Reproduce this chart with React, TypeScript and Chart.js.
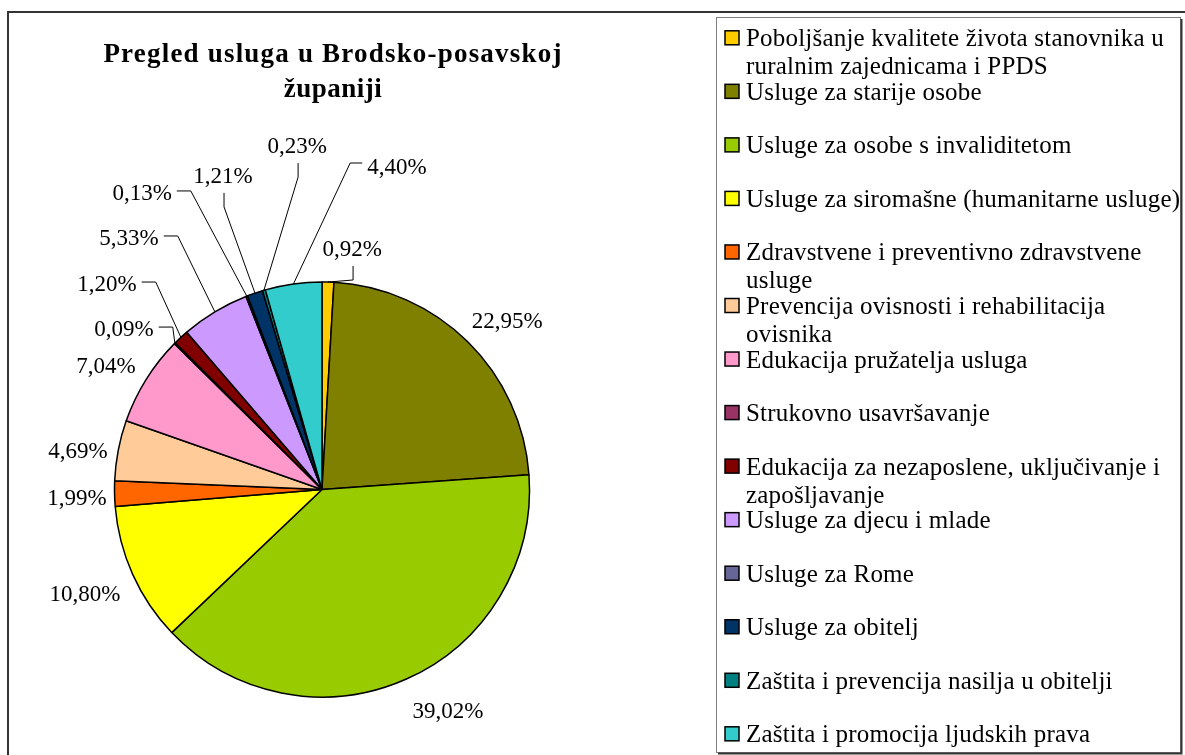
import React, { useEffect, useRef } from "react";
import { Chart, registerables } from "chart.js";

Chart.register(...registerables);

// ---------- data ----------
const categories: string[] = [
  "Poboljšanje kvalitete života stanovnika u ruralnim zajednicama i PPDS",
  "Usluge za starije osobe",
  "Usluge za osobe s invaliditetom",
  "Usluge za siromašne (humanitarne usluge)",
  "Zdravstvene i preventivno zdravstvene usluge",
  "Prevencija ovisnosti i rehabilitacija ovisnika",
  "Edukacija pružatelja usluga",
  "Strukovno usavršavanje",
  "Edukacija za nezaposlene, uključivanje i zapošljavanje",
  "Usluge za djecu i mlade",
  "Usluge za Rome",
  "Usluge za obitelj",
  "Zaštita i prevencija nasilja u obitelji",
  "Zaštita i promocija ljudskih prava",
];

const shares: number[] = [
  0.92, 22.95, 39.02, 10.8, 1.99, 4.69, 7.04, 0.09, 1.2, 5.33, 0.13, 1.21, 0.23, 4.4,
];

const sliceColors: string[] = [
  "#FFCC00", "#808000", "#99CC00", "#FFFF00", "#FF6600", "#FFCC99", "#FF99CC",
  "#993366", "#800000", "#CC99FF", "#666699", "#003366", "#008080", "#33CCCC",
];

const titleLines: string[] = ["Pregled usluga u Brodsko-posavskoj", "županiji"];

// label placement: centre of each percentage label, in pie radii from the pie centre
const labelPlacement: [number, number][] = [
  [0.145, -1.164], [0.892, -0.817], [0.607, 1.063], [-1.142, 0.499], [-1.181, 0.036],
  [-1.176, -0.19], [-1.041, -0.6], [-0.954, -0.778], [-1.036, -0.995], [-0.93, -1.217],
  [-0.867, -1.434], [-0.477, -1.516], [-0.12, -1.66], [0.361, -1.559],
];
// which side of the label a leader line leaves from (null = no leader)
const leaderSide: (string | null)[] = [
  "b", null, null, null, null, null, null, "r", "r", "r", "r", "b", "b", "l",
];

const fmtPct = (v: number) => v.toFixed(2).replace(".", ",") + "%";

function wrapText(ctx: CanvasRenderingContext2D, text: string, maxW: number): string[] {
  const words = text.split(" ");
  const lines: string[] = [];
  let cur = "";
  for (const w of words) {
    const test = cur ? cur + " " + w : w;
    if (cur && ctx.measureText(test).width > maxW) {
      lines.push(cur);
      cur = w;
    } else {
      cur = test;
    }
  }
  if (cur) lines.push(cur);
  return lines;
}

const decorPlugin = {
  id: "decor",
  beforeDraw(chart: any) {
    const ctx: CanvasRenderingContext2D = chart.ctx;
    ctx.save();
    ctx.fillStyle = "#ffffff";
    ctx.fillRect(0, 0, chart.width, chart.height);

    // outer frame
    ctx.strokeStyle = "#333333";
    ctx.lineWidth = 2;
    ctx.strokeRect(8, 12, chart.width + 20, chart.height + 20);

    // title
    ctx.fillStyle = "#000000";
    ctx.font = "bold 27px 'Liberation Serif'";
    ctx.textAlign = "center";
    ctx.textBaseline = "alphabetic";
    (ctx as any).letterSpacing = "1.2px";
    ctx.fillText(titleLines[0], 333, 62);
    (ctx as any).letterSpacing = "0.5px";
    for (let i = 1; i < titleLines.length; i++) ctx.fillText(titleLines[i], 333, 62 + i * 35);
    (ctx as any).letterSpacing = "0px";

    // legend box
    const bx = 716, by = 17, bw = 464, bh = 735;
    ctx.strokeStyle = "#808080";
    ctx.lineWidth = 1;
    ctx.strokeRect(bx + 0.5, by + 0.5, bw, bh);
    ctx.strokeStyle = "#333333";
    ctx.lineWidth = 2;
    ctx.beginPath();
    ctx.moveTo(bx + bw + 1.5, by + 2);
    ctx.lineTo(bx + bw + 1.5, by + bh + 1.5);
    ctx.lineTo(bx + 2, by + bh + 1.5);
    ctx.stroke();

    ctx.font = "25px 'Liberation Serif'";
    ctx.textAlign = "left";
    (ctx as any).letterSpacing = "0.2px";
    const labels: string[] = chart.data.labels;
    const cols: string[] = chart.data.datasets[0].backgroundColor;
    const n = labels.length;
    const firstY = 37.8;
    const step = 53.54;
    for (let i = 0; i < n; i++) {
      const yc = firstY + i * step;
      ctx.fillStyle = cols[i];
      ctx.fillRect(725, yc - 7, 14, 14);
      ctx.strokeStyle = "#000000";
      ctx.lineWidth = 1.5;
      ctx.strokeRect(725, yc - 7, 14, 14);
      ctx.fillStyle = "#000000";
      const lines = wrapText(ctx, labels[i], 446);
      lines.forEach((ln, k) => ctx.fillText(ln, 746, yc + 8.5 + k * 28));
    }
    (ctx as any).letterSpacing = "0px";
    ctx.restore();
  },
  afterDatasetsDraw(chart: any) {
    const ctx: CanvasRenderingContext2D = chart.ctx;
    const meta = chart.getDatasetMeta(0);
    const values: number[] = chart.data.datasets[0].data;
    ctx.save();
    ctx.font = "23px 'Liberation Serif'";
    ctx.textAlign = "center";
    ctx.textBaseline = "alphabetic";
    ctx.fillStyle = "#000000";
    ctx.strokeStyle = "#000000";
    ctx.lineWidth = 1;
    meta.data.forEach((arc: any, i: number) => {
      const { x, y, startAngle, endAngle, outerRadius } = arc.getProps(
        ["x", "y", "startAngle", "endAngle", "outerRadius"],
        true
      );
      const mid = (startAngle + endAngle) / 2;
      const ax = x + Math.cos(mid) * outerRadius;
      const ay = y + Math.sin(mid) * outerRadius;
      const [fx, fy] = labelPlacement[i];
      const lx = x + fx * outerRadius;
      const ly = y + fy * outerRadius;
      const text = fmtPct(values[i]);
      const w = ctx.measureText(text).width;
      ctx.fillText(text, lx, ly + 7.8);
      const side = leaderSide[i];
      if (side) {
        let sx = 0, sy = 0, ex = 0, ey = 0;
        if (side === "b") {
          sx = lx + 1; sy = ly + 18; ex = sx; ey = ly + 32;
        } else if (side === "r") {
          sx = lx + w / 2 + 5; sy = ly - 1; ex = lx + w / 2 + 19; ey = sy;
        } else {
          sx = lx - w / 2 - 5; sy = ly - 3; ex = lx - w / 2 - 17; ey = sy;
        }
        ctx.beginPath();
        ctx.moveTo(sx, sy);
        ctx.lineTo(ex, ey);
        ctx.lineTo(ax, ay);
        ctx.stroke();
      }
    });
    ctx.restore();
  },
};

export default function App() {
  const canvasRef = useRef<HTMLCanvasElement | null>(null);

  useEffect(() => {
    if (!canvasRef.current) return;
    const cx = 322, cy = 489.5, r = 207.5, bw = 1.5;
    const side = 2 * r + bw;
    const W = 1185, H = 755;
    const chart = new Chart(canvasRef.current, {
      type: "pie",
      data: {
        labels: categories,
        datasets: [
          {
            data: shares,
            backgroundColor: sliceColors,
            borderColor: "#000000",
            borderWidth: bw,
            hoverBorderWidth: bw,
            hoverOffset: 0,
            offset: 0,
          },
        ],
      },
      options: {
        responsive: false,
        maintainAspectRatio: false,
        animation: false,
        devicePixelRatio: 1,
        events: [],
        layout: {
          padding: {
            left: cx - side / 2,
            top: cy - side / 2,
            right: W - (cx + side / 2),
            bottom: H - (cy + side / 2),
          },
        },
        plugins: {
          legend: { display: false },
          title: { display: false },
          tooltip: { enabled: false },
        },
      },
      plugins: [decorPlugin],
    });
    return () => chart.destroy();
  }, []);

  return (
    <div style={{ position: "absolute", left: 0, top: 0, width: 1185, height: 755, background: "#fff" }}>
      <canvas ref={canvasRef} width={1185} height={755} style={{ display: "block" }} />
    </div>
  );
}
